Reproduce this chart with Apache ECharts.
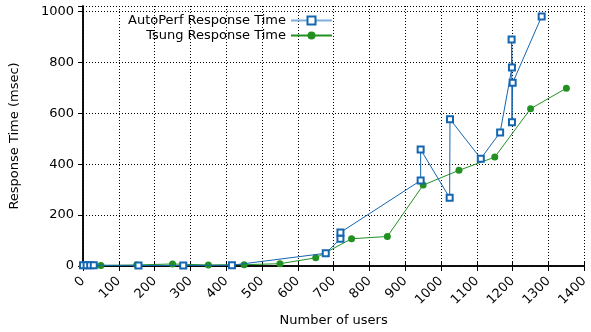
<!DOCTYPE html>
<html>
<head>
<meta charset="utf-8">
<title>Response Time</title>
<script src="https://cdn.jsdelivr.net/npm/echarts@6/dist/echarts.min.js"></script>
<style>
  html, body { margin: 0; padding: 0; background: #fff; }
  #chart { width: 591px; height: 332px; }
</style>
</head>
<body>
<div id="chart"></div>
<script>
// Measured response times against concurrent users
const autoPerfUsers = [0, 10, 20, 30, 155, 280, 416, 678, 719, 719, 943, 943, 1024, 1025, 1111, 1165, 1198, 1197, 1198, 1200, 1281];
const autoPerfTimes = [3, 3, 3, 3, 2, 2, 3, 50, 107, 132, 336, 458, 268, 577, 422, 525, 780, 890, 565, 720, 981];

const tsungUsers = [50, 150, 250, 350, 450, 550, 650, 750, 850, 950, 1050, 1150, 1250, 1350];
const tsungTimes = [2, 4, 8, 4, 5, 9, 32, 107, 116, 318, 376, 428, 618, 699];

const seriesNames = ['AutoPerf Response Time', 'Tsung Response Time'];
const xTitle = 'Number of users';
const yTitle = 'Response Time (msec)';

const BLUE = '#1466b0';
const GREEN = '#229122';
const FONT = 'DejaVu Sans';

const pairs = (xs, ys) => xs.map((x, i) => [x, ys[i]]);

const gridLine = { show: true, lineStyle: { color: '#000', type: [1, 2], width: 1 } };

const chart = echarts.init(document.getElementById('chart'), null, { renderer: 'canvas' });

const legendBase = {
  orient: 'vertical',
  right: 258,
  padding: 0,
  align: 'right',
  itemWidth: 41,
  itemHeight: 10,
  textStyle: { fontFamily: FONT, fontSize: 13, color: '#000' },
  selectedMode: false
};

chart.setOption({
  animation: false,
  backgroundColor: '#fff',
  grid: { left: 83, right: 0, top: 6, bottom: 62, containLabel: false },
  legend: [
    Object.assign({}, legendBase, {
      top: 14,
      data: [{ name: seriesNames[0], lineStyle: { color: '#7fb0dc', width: 2 } }]
    }),
    Object.assign({}, legendBase, {
      top: 29,
      data: [{ name: seriesNames[1] }]
    })
  ],
  xAxis: [
    {
      type: 'value',
      min: 0, max: 1400, interval: 100,
      name: xTitle,
      nameLocation: 'middle',
      nameGap: 46,
      nameTextStyle: { fontFamily: FONT, fontSize: 13, color: '#000' },
      axisLine: { show: true, lineStyle: { color: '#000', width: 1.5 } },
      axisTick: { show: true, inside: true, length: 4, lineStyle: { color: '#000' } },
      axisLabel: {
        rotate: 45, margin: 13, fontFamily: FONT, fontSize: 13, color: '#000',
        formatter: v => String(v)
      },
      splitLine: gridLine
    },
    {
      type: 'value',
      position: 'top',
      min: 0, max: 1400, interval: 100,
      axisLine: { show: true, lineStyle: { color: '#000', width: 1.5 } },
      axisTick: { show: true, inside: true, length: 5, lineStyle: { color: '#000' } },
      axisLabel: { show: false },
      splitLine: { show: false }
    }
  ],
  yAxis: [
    {
      type: 'value',
      min: 0, max: 1022, interval: 200,
      name: yTitle,
      nameLocation: 'middle',
      nameGap: 62,
      nameTextStyle: { fontFamily: FONT, fontSize: 13, color: '#000' },
      axisLine: { show: true, lineStyle: { color: '#000', width: 1.5 } },
      axisTick: { show: true, inside: false, length: 5, lineStyle: { color: '#000' } },
      axisLabel: {
        margin: 9, fontFamily: FONT, fontSize: 13, color: '#000',
        showMaxLabel: false,
        formatter: v => (v % 200 === 0 ? String(v) : '')
      },
      splitLine: gridLine
    },
    {
      type: 'value',
      position: 'right',
      min: 0, max: 1022, interval: 200,
      axisLine: { show: true, lineStyle: { color: '#000', width: 1.5 } },
      axisTick: { show: true, inside: true, length: 5, lineStyle: { color: '#000' } },
      axisLabel: { show: false },
      splitLine: { show: false }
    }
  ],
  series: [
    {
      name: seriesNames[0],
      type: 'line',
      data: pairs(autoPerfUsers, autoPerfTimes),
      symbol: 'emptyRect',
      symbolSize: 6,
      showAllSymbol: true,
      lineStyle: { color: BLUE, width: 1 },
      itemStyle: { color: BLUE, borderColor: BLUE, borderWidth: 1.2 },
      z: 3
    },
    {
      name: seriesNames[1],
      type: 'line',
      data: pairs(tsungUsers, tsungTimes),
      symbol: 'circle',
      symbolSize: 7,
      showAllSymbol: true,
      lineStyle: { color: GREEN, width: 1 },
      itemStyle: { color: GREEN },
      z: 2
    }
  ]
});
</script>
</body>
</html>
